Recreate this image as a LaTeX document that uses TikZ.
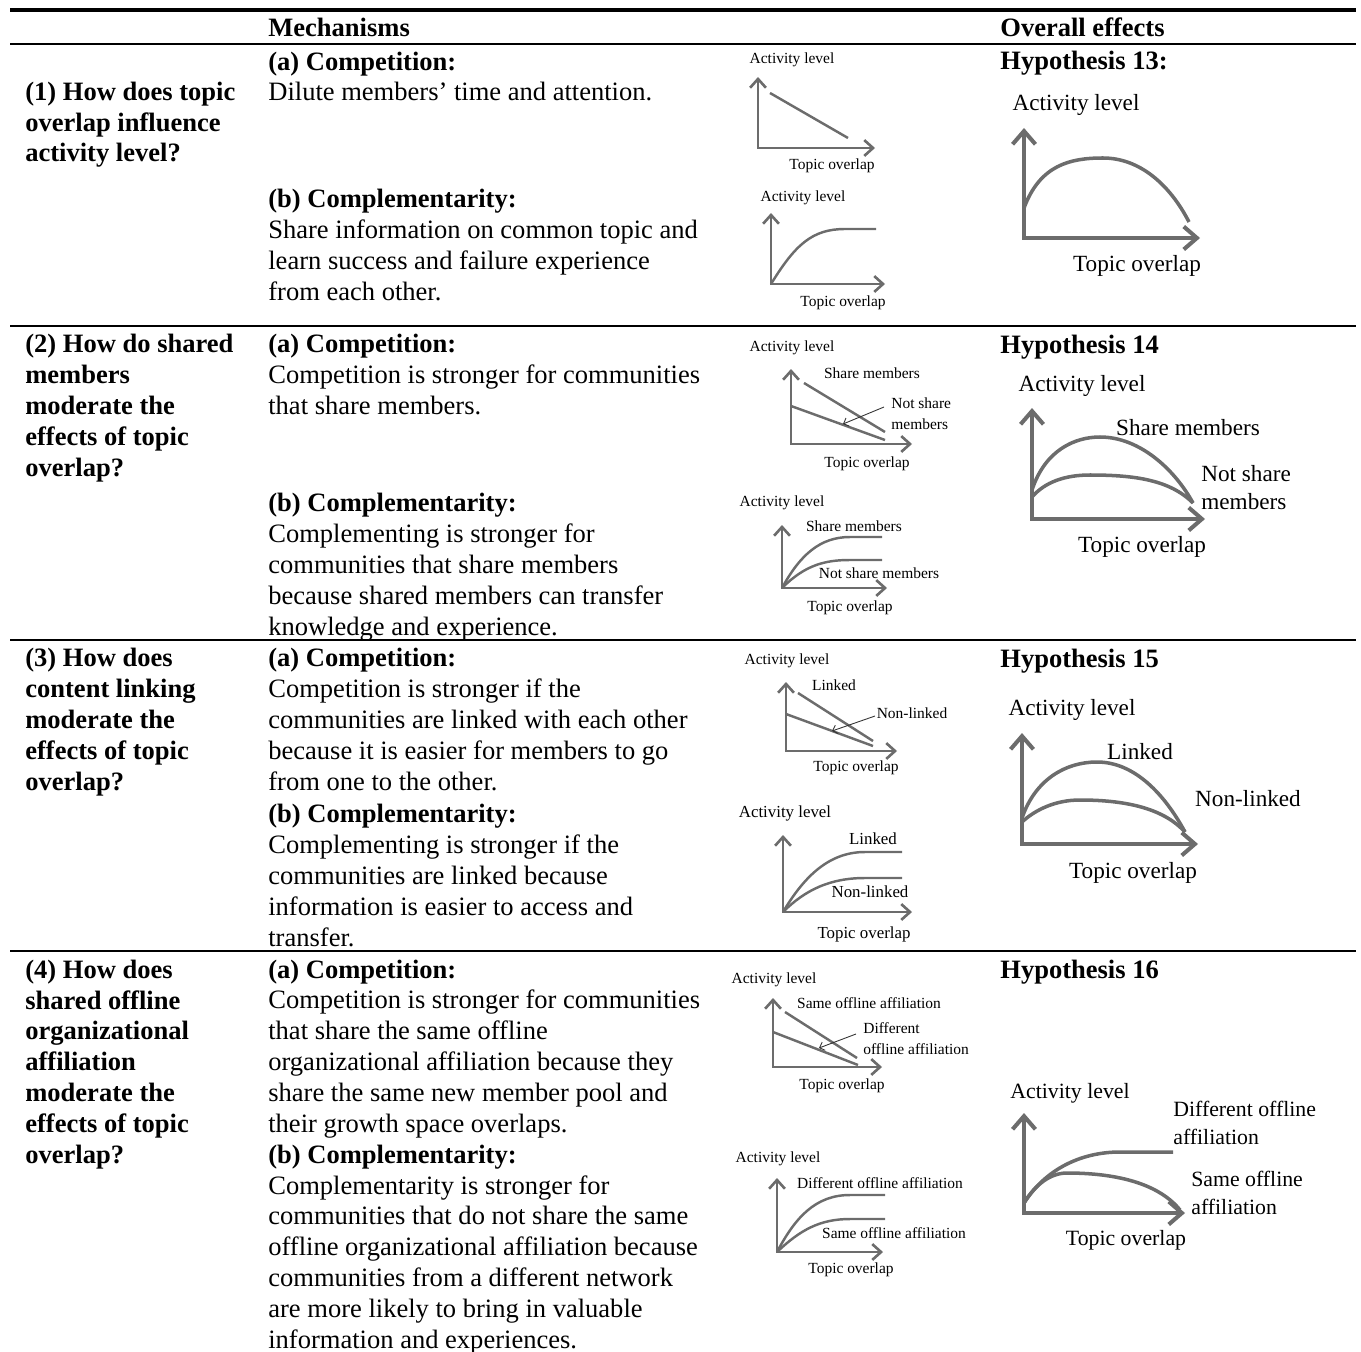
\documentclass[tikz,border=0pt]{standalone}
\usepackage{fontspec}
\setmainfont{Liberation Serif}
\usetikzlibrary{arrows.meta}
\definecolor{plotgray}{RGB}{108,108,108}
\tikzset{
  body/.style={anchor=base west, align=left, inner sep=0pt,
    font=\fontsize{15.1}{17.53}\selectfont},
  bodybf/.style={body, font=\fontsize{15.1}{17.53}\selectfont\bfseries},
  toprule/.style={line width=2.2pt},
  midrule/.style={line width=1.1pt},
  axis/.style={plotgray, line width=1.5pt, line join=miter,
    {Straight Barb[length=5pt,width=9pt]}-{Straight Barb[length=5pt,width=9pt]}},
  curve/.style={plotgray, line width=1.4pt},
  bigaxis/.style={plotgray, line width=2.3pt, line join=miter,
    {Straight Barb[length=7.5pt,width=13pt]}-{Straight Barb[length=7.5pt,width=13pt]}},
  bigcurve/.style={plotgray, line width=2pt},
  pointer/.style={black!80, line width=0.5pt, -{Straight Barb[length=2.5pt,width=5pt]}},
  lbl/.style={inner sep=0pt, align=left, font=\fontsize{8.8}{12}\selectfont},
  biglbl/.style={inner sep=0pt, align=left, font=\fontsize{13.2}{15.9}\selectfont}
}

\begin{document}
\begin{tikzpicture}[x=0.02cm, y=-0.02cm]
  \useasboundingbox (0,0) rectangle (1361,1351);

  \draw[toprule] (10,10) -- (1356,10);
  \draw[midrule] (10,44) -- (1356,44);
  \draw[midrule] (10,326) -- (1356,326);
  \draw[midrule] (10,640) -- (1356,640);
  \draw[midrule] (10,951) -- (1356,951);

  \node[bodybf] (mech) at (268,37) {Mechanisms};
  \node[bodybf] (over) at (1000,37) {Overall effects};

  \node[bodybf] (q1) at (25,162) {(1) How does topic\\overlap influence\\activity level?};
  \node[bodybf] (q2) at (25,476) {(2) How do shared\\members\\moderate the\\effects of topic\\overlap?};
  \node[bodybf] (q3) at (25,790) {(3) How does\\content linking\\moderate the\\effects of topic\\overlap?};
  \node[bodybf] (q4) at (25,1163) {(4) How does\\shared offline\\organizational\\affiliation\\moderate the\\effects of topic\\overlap?};

  \node[body] (m1a) at (268,101) {\textbf{(a) Competition:}\\Dilute members’ time and attention.};
  \node[body] (m1b) at (268,300) {\textbf{(b) Complementarity:}\\Share information on common topic and\\learn success and failure experience\\from each other.};
  \node[body] (m2a) at (268,414) {\textbf{(a) Competition:}\\Competition is stronger for communities\\that share members.};
  \node[body] (m2b) at (268,635) {\textbf{(b) Complementarity:}\\Complementing is stronger for\\communities that share members\\because shared members can transfer\\knowledge and experience.};
  \node[body] (m3a) at (268,790) {\textbf{(a) Competition:}\\Competition is stronger if the\\communities are linked with each other\\because it is easier for members to go\\from one to the other.};
  \node[body] (m3b) at (268,946) {\textbf{(b) Complementarity:}\\Complementing is stronger if the\\communities are linked because\\information is easier to access and\\transfer.};
  \node[body] (m4a) at (268,1132) {\textbf{(a) Competition:}\\Competition is stronger for communities\\that share the same offline\\organizational affiliation because they\\share the same new member pool and\\their growth space overlaps.};
  \node[body] (m4b) at (268,1348) {\textbf{(b) Complementarity:}\\Complementarity is stronger for\\communities that do not share the same\\offline organizational affiliation because\\communities from a different network\\are more likely to bring in valuable\\information and experiences.};

  \node[bodybf] (h13) at (1000,70) {Hypothesis 13:};
  \node[bodybf] (h14) at (1000,353) {Hypothesis 14};
  \node[bodybf] (h15) at (1000,667) {Hypothesis 15};
  \node[bodybf] (h16) at (1000,978) {Hypothesis 16};

  % small charts, row 1
  \draw[axis] (758,77) -- (758,148) -- (875,148);
  \draw[curve] (770,93) -- (848,138);
  \node[lbl] (y1a) at (792,60) {Activity level};
  \node[lbl] (x1a) at (832,166) {Topic overlap};

  \draw[axis] (771,213) -- (771,284) -- (885,284);
  \draw[curve] (771,284) .. controls (795,245) and (812,229) .. (845,229) -- (876,229);
  \node[lbl] (y1b) at (803,198) {Activity level};
  \node[lbl] (x1b) at (843,303) {Topic overlap};

  % small charts, row 2
  \draw[axis] (791,369) -- (791,444) -- (912,444);
  \draw[curve] (804,383) -- (885,432);
  \draw[curve] (791,406) -- (885,440);
  \node[lbl] (y2a) at (792,348) {Activity level};
  \node[lbl] (s2a) at (872,373) {Share members};
  \node[lbl, anchor=west] (n2a) at (891,413.5) {Not share\\members};
  \node[lbl] (x2a) at (867,464) {Topic overlap};
  \coordinate (p2a) at (884,407);
  \coordinate (t2a) at (843,424);
  \draw[pointer] (p2a) -- (t2a);

  \draw[axis] (782,525) -- (782,588) -- (887,588);
  \draw[curve] (782,588) .. controls (800,555) and (820,537) .. (850,537) -- (882,537);
  \draw[curve] (782,588) .. controls (805,565) and (825,560) .. (850,560) -- (882,560);
  \node[lbl] (y2b) at (782,503) {Activity level};
  \node[lbl] (s2b) at (854,526) {Share members};
  \node[lbl] (n2b) at (879,573) {Not share members};
  \node[lbl] (x2b) at (850,608) {Topic overlap};

  % small charts, row 3
  \draw[axis] (786,682) -- (786,751) -- (897,751);
  \draw[curve] (798,693) -- (873,741);
  \draw[curve] (786,714) -- (873,746);
  \node[lbl] (y3a) at (787,661) {Activity level};
  \node[lbl] (l3a) at (834,685) {Linked};
  \node[lbl] (n3a) at (912,713) {Non-linked};
  \node[lbl] (x3a) at (856,768) {Topic overlap};
  \coordinate (p3a) at (875,716);
  \coordinate (t3a) at (832,731);
  \draw[pointer] (p3a) -- (t3a);

  \draw[axis] (783,835) -- (783,912) -- (912,912);
  \draw[curve] (783,912) .. controls (805,875) and (830,852) .. (865,852) -- (902,852);
  \draw[curve] (783,912) .. controls (805,890) and (830,878) .. (865,878) -- (902,878);
  \node[lbl, font=\fontsize{9.6}{12}\selectfont] (y3b) at (785,813) {Activity level};
  \node[lbl, font=\fontsize{9.6}{12}\selectfont] (l3b) at (873,839) {Linked};
  \node[lbl, font=\fontsize{9.6}{12}\selectfont] (n3b) at (870,892) {Non-linked};
  \node[lbl, font=\fontsize{9.6}{12}\selectfont] (x3b) at (864,934) {Topic overlap};

  % small charts, row 4
  \draw[axis] (773,998) -- (773,1067) -- (882,1067);
  \draw[curve] (785,1012) -- (857,1058);
  \draw[curve] (773,1032) -- (858,1065);
  \node[lbl] (y4a) at (774,980) {Activity level};
  \node[lbl] (s4a) at (869,1003) {Same offline affiliation};
  \node[lbl, anchor=west] (d4a) at (863,1039) {Different\\offline affiliation};
  \node[lbl] (x4a) at (842,1086) {Topic overlap};
  \coordinate (p4a) at (856,1034);
  \coordinate (t4a) at (819,1048);
  \draw[pointer] (p4a) -- (t4a);

  \draw[axis] (777,1178) -- (777,1252) -- (883,1252);
  \draw[curve] (777,1252) .. controls (795,1218) and (815,1195) .. (850,1195) -- (885,1195);
  \draw[curve] (777,1252) .. controls (800,1230) and (820,1219) .. (850,1219) -- (885,1219);
  \node[lbl] (y4b) at (778,1159) {Activity level};
  \node[lbl] (d4b) at (880,1183) {Different offline affiliation};
  \node[lbl] (s4b) at (894,1233) {Same offline affiliation};
  \node[lbl] (x4b) at (851,1270) {Topic overlap};

  % overall effects
  \draw[bigaxis] (1024,128) -- (1024,238) -- (1200,238);
  \draw[bigcurve] (1024,208) .. controls (1040,165) and (1070,158) .. (1103,158)
    .. controls (1140,158) and (1170,185) .. (1189,222);
  \node[biglbl] (y13) at (1076,105) {Activity level};
  \node[biglbl] (x13) at (1137,266) {Topic overlap};

  \draw[bigaxis] (1032,408) -- (1032,519) -- (1205,519);
  \draw[bigcurve] (1032,490) .. controls (1045,450) and (1075,437) .. (1100,437)
    .. controls (1140,437) and (1175,470) .. (1193,503);
  \draw[bigcurve] (1032,497) .. controls (1045,482) and (1065,475) .. (1090,475)
    .. controls (1135,475) and (1170,480) .. (1193,503);
  \node[biglbl] (y14) at (1082,386) {Activity level};
  \node[biglbl] (s14) at (1188,428) {Share members};
  \node[biglbl, anchor=west] (n14) at (1201,488) {Not share\\members};
  \node[biglbl] (x14) at (1142,547) {Topic overlap};

  \draw[bigaxis] (1022,733) -- (1022,844) -- (1198,844);
  \draw[bigcurve] (1022,818) .. controls (1035,780) and (1065,762) .. (1097,762)
    .. controls (1135,762) and (1165,795) .. (1185,832);
  \draw[bigcurve] (1022,822) .. controls (1035,810) and (1055,800) .. (1080,800)
    .. controls (1130,800) and (1165,810) .. (1185,832);
  \node[biglbl] (y15) at (1072,710) {Activity level};
  \node[biglbl] (l15) at (1140,752) {Linked};
  \node[biglbl] (n15) at (1248,799) {Non-linked};
  \node[biglbl] (x15) at (1133,873) {Topic overlap};

  \draw[bigaxis] (1024,1113) -- (1024,1213) -- (1185,1213);
  \draw[bigcurve] (1024,1203) .. controls (1045,1170) and (1080,1152) .. (1120,1152) -- (1173,1152);
  \draw[bigcurve] (1024,1203) .. controls (1035,1185) and (1050,1173) .. (1067,1173)
    .. controls (1120,1173) and (1160,1185) .. (1180,1210);
  \node[biglbl, font=\fontsize{12.4}{15.9}\selectfont] (y16) at (1070,1093) {Activity level};
  \node[biglbl, font=\fontsize{12.4}{15.9}\selectfont, anchor=west] (d16) at (1173,1123) {Different offline\\affiliation};
  \node[biglbl, font=\fontsize{12.4}{15.9}\selectfont, anchor=west] (s16) at (1191,1193) {Same offline\\affiliation};
  \node[biglbl, font=\fontsize{12.4}{15.9}\selectfont] (x16) at (1126,1240) {Topic overlap};
\end{tikzpicture}
\end{document}
